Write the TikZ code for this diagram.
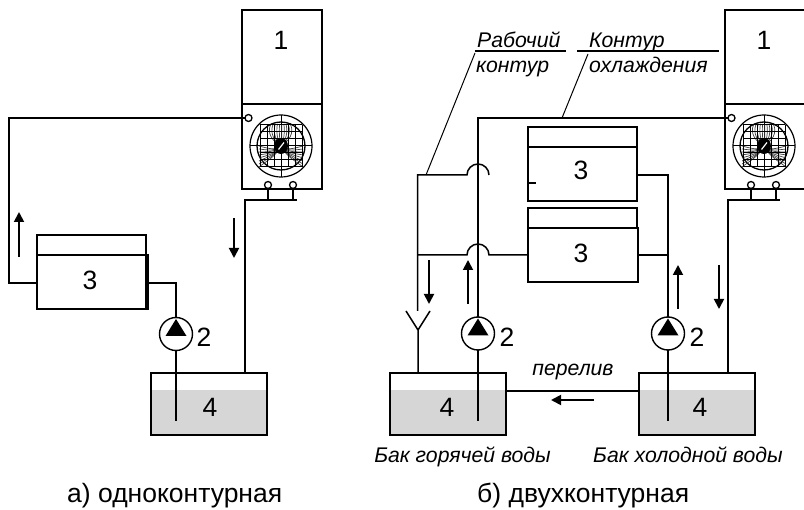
\documentclass[tikz,border=0pt]{standalone}
\usepackage{fontspec}
\setmainfont{Liberation Sans}
\usetikzlibrary{arrows.meta,calc}
\definecolor{water}{HTML}{D6D6D6}
\tikzset{
  x=1pt,y=-1pt,
  wire/.style={line width=1.5pt,line join=miter},
  thin wire/.style={line width=1pt},
  flow/.style={line width=1.8pt,-{Triangle[length=10pt,width=10pt]}},
  boxn/.style={draw,line width=1.5pt,rectangle,inner sep=0,outer sep=0},
  num/.style={font=\fontsize{26.5}{30}\selectfont,inner sep=0},
  note/.style={font=\fontsize{21.2}{24}\selectfont\itshape,inner sep=0,anchor=base west},
  notec/.style={font=\fontsize{21.2}{24}\selectfont\itshape,inner sep=0},
  captext/.style={font=\fontsize{26.5}{30}\selectfont,inner sep=0},
  port/.style={circle,draw,line width=1.3pt,fill=white,minimum size=7pt,inner sep=0,outer sep=0},
  pump/.style={circle,draw,line width=1.4pt,fill=white,minimum size=33pt,inner sep=0,outer sep=0},
  pics/fan/.style={code={
    \draw[line width=1.2pt] (0,0) circle (31);
    \draw[line width=1.3pt] (0,0) circle (24);
    \draw[line width=1pt] (-31,0)--(31,0) (0,-31)--(0,31);
    \foreach \a in {-14,-11,...,14}{\draw[line width=0.7pt,black!75] (0,0) .. controls (\a,-8) and (\a*0.9,-18) .. (\a*0.7,-22);}
    \foreach \a in {-10,-7,...,11}{\draw[line width=0.7pt,black!75] (0,0) .. controls (-6,8+\a*0.3) and (-14,8+\a*0.6) .. (-22,10+\a);
      \draw[line width=0.7pt,black!75] (0,0) .. controls (6,8+\a*0.3) and (14,8+\a*0.6) .. (22,10+\a);}
    \foreach \d in {-21,-14,-7,7,14,21}{\draw[line width=1pt] (-21,\d)--(21,\d) (\d,-21)--(\d,21);}
    \fill[black] (0,0) ellipse (7 and 8);
    \draw[white,line width=1.2pt] (-2.5,3.5)--(3,-3.5);
  }},
  pics/pumpsym/.style={code={
    \fill[black] (0,-15)--(10.5,2)--(-10.5,2)--cycle;
  }}
}
\begin{document}
\begin{tikzpicture}
\useasboundingbox (0,0) rectangle (804,510);
% ---------- a) left scheme
\node[boxn,minimum width=80pt,minimum height=94pt,anchor=north west] (towerA) at (242,10) {};
\node[num] at (281,40) {1};
\node[boxn,minimum width=80pt,minimum height=85pt,anchor=north west] (fanA) at (242,104) {};
\pic at (281,146) {fan};
\node[port] (pAl) at (248.5,118) {};
\node[port] (pAb1) at (268,185) {};
\node[port] (pAb2) at (293,185) {};
\coordinate (jA) at (245,200);
\coordinate (jAe) at (297,200);
\fill[water] (151,390) rectangle (267,435);
\node[boxn,minimum width=116pt,minimum height=62pt,anchor=north west] (tankA) at (151,373) {};
\node[num] at (210,407) {4};
\node[boxn,minimum width=109pt,minimum height=20pt,anchor=north west] (hxAt) at (37,235) {};
\node[boxn,minimum width=111pt,minimum height=54pt,anchor=north west] (hxA) at (37,255) {};
\draw[line width=1.2pt] (146,255)--(146,309);
\node[num] at (90,280) {3};
\node[pump] (pumpA) at (176,334) {};
\pic at (176,334) {pumpsym};
\node[num] at (204,337) {2};
\draw[wire] (pAl.west) -- (9,118) -- (9,283) -- (37,283);
\draw[wire] (146,283) -- (176,283) -- (pumpA.north);
\draw[wire] (pumpA.south) -- (176,421);
\draw[wire] (pAb1.south) -- (268,200);
\draw[wire] (pAb2.south) -- (293,200);
\draw[wire] (245,373) -- (jA) -- (jAe);
\draw[flow] (19,257) -- (19,212);
\draw[flow] (234,218) -- (234,258);
\node[captext,anchor=base west] at (67,503) {а) одноконтурная};
% ---------- б) right scheme
\node[boxn,minimum width=80pt,minimum height=94pt,anchor=north west] (towerB) at (725,10) {};
\node[num] at (764,40) {1};
\node[boxn,minimum width=80pt,minimum height=85pt,anchor=north west] (fanB) at (725,104) {};
\pic at (764,146) {fan};
\node[port] (pBl) at (731.5,118) {};
\node[port] (pBb1) at (751,185) {};
\node[port] (pBb2) at (776,185) {};
\coordinate (jB) at (728,200);
\coordinate (jBe) at (780,200);
\fill[water] (390,390) rectangle (506,435);
\node[boxn,minimum width=116pt,minimum height=62pt,anchor=north west] (tankH) at (390,373) {};
\node[num] at (447,407) {4};
\fill[water] (639,390) rectangle (755,435);
\node[boxn,minimum width=116pt,minimum height=62pt,anchor=north west] (tankC) at (639,373) {};
\node[num] at (700,407) {4};
\node[boxn,minimum width=109pt,minimum height=20pt,anchor=north west] (hx1t) at (528,127) {};
\node[boxn,minimum width=109pt,minimum height=54pt,anchor=north west] (hx1) at (528,147) {};
\node[num] at (581,170) {3};
\draw[wire] (529,183)--(536,183);
\node[boxn,minimum width=109pt,minimum height=20pt,anchor=north west] (hx2t) at (528,208) {};
\node[boxn,minimum width=110pt,minimum height=54pt,anchor=north west] (hx2) at (528,228) {};
\node[num] at (581,253) {3};
\node[pump] (pumpH) at (478,333.5) {};
\pic at (478,333.5) {pumpsym};
\node[num] at (507,337) {2};
\node[pump] (pumpC) at (668,333.5) {};
\pic at (668,333.5) {pumpsym};
\node[num] at (697,337) {2};
% cooling loop
\draw[wire] (pBl.west) -- (478,118) -- (pumpH.north);
\draw[wire] (pumpH.south) -- (478,421);
\draw[wire] (pumpC.south) -- (668,421);
\draw[wire] (pBb1.south) -- (751,200);
\draw[wire] (pBb2.south) -- (776,200);
\draw[wire] (728,373) -- (jB) -- (jBe);
\draw[wire] (pumpC.north) -- (668,175) -- (637,175);
\draw[wire] (668,255) -- (638,255);
% working loop
\coordinate (Yc) at (418,330);
\draw[wire] (417.5,311) -- (417.5,175) -- (467,175) arc[start angle=180,end angle=360,radius=11];
\draw[wire] (417.5,255) -- (467,255) arc[start angle=180,end angle=360,radius=11] -- (528,255);
\draw[wire] (418,373) -- (Yc) -- (406,311) (Yc) -- (430,311);
% overflow
\draw[wire] (506,391) -- (639,391);
\draw[flow] (594,400) -- (551,400);
\draw[flow] (429,260) -- (429,304);
\draw[flow] (468,304) -- (468,260);
\draw[flow] (678,309) -- (678,265);
\draw[flow] (719,265) -- (719,309);
% labels
\node[note] (lW1) at (477,48) {Рабочий};
\node[note] (lW2) at (476,73) {контур};
\node[note] (lC1) at (589,48) {Контур};
\node[note] (lC2) at (589,73) {охлаждения};
\coordinate (uW1) at (475,51); \coordinate (uW2) at (566,51);
\coordinate (uC1) at (577,51); \coordinate (uC2) at (719,51);
\draw[wire] (uW1) -- (uW2);
\draw[wire] (uC1) -- (uC2);
\draw[thin wire] (475,53) -- (426,175);
\draw[thin wire] (588,54) -- (562,118);
\node[notec] at (573,372) {перелив};
\node[notec,anchor=base east] at (551,463) {Бак горячей воды};
\node[notec,anchor=base west] at (593,463) {Бак холодной воды};
\node[captext,anchor=base west] at (477,503) {б) двухконтурная};
\end{tikzpicture}
\end{document}
